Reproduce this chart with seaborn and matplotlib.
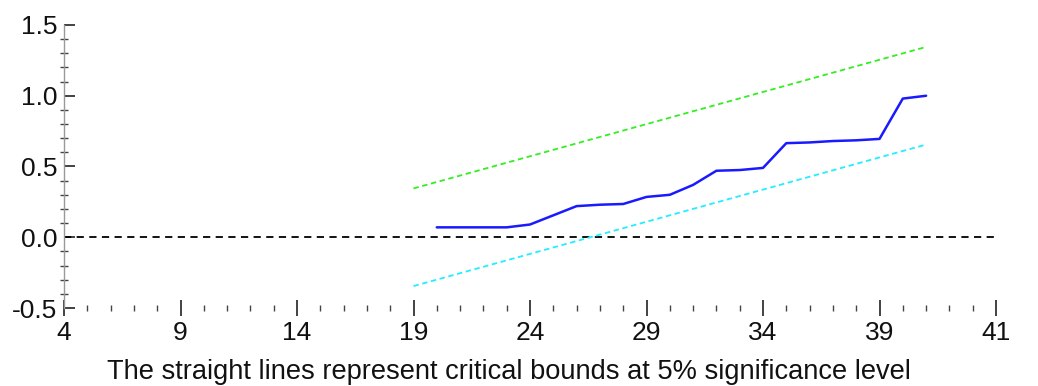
import matplotlib
matplotlib.use("Agg")
import matplotlib.pyplot as plt
import seaborn as sns
import pandas as pd
from matplotlib.ticker import FixedLocator, MultipleLocator

# Data
obs = list(range(20, 42))
cusumsq = [0.07, 0.07, 0.07, 0.07, 0.09, 0.155, 0.22, 0.23, 0.235, 0.285, 0.30,
           0.37, 0.47, 0.475, 0.49, 0.665, 0.67, 0.68, 0.685, 0.695, 0.98, 1.0]
bound_x = [19, 41]
upper_bound = [0.345, 1.345]
lower_bound = [-0.345, 0.655]
xtick_pos = [4, 9, 14, 19, 24, 29, 34, 39, 44]
xtick_labels = ["4", "9", "14", "19", "24", "29", "34", "39", "41"]
ytick_pos = [-0.5, 0.0, 0.5, 1.0, 1.5]
ytick_labels = ["-0.5", "0.0", "0.5", "1.0", "1.5"]
xlabel = "The straight lines represent critical bounds at 5% significance level"

sns.set_theme(style="white")
plt.rcParams['font.family'] = ['Liberation Sans', 'DejaVu Sans']

fig = plt.figure(figsize=(10.38, 3.86), dpi=100)
ax = fig.add_axes([64/1038, 1-308/386, (996-64)/1038, (308-25)/386])

df = pd.DataFrame({"obs": obs, "val": cusumsq})
bdf = pd.DataFrame({"x": bound_x, "up": upper_bound, "lo": lower_bound})

ax.axhline(0, color="black", lw=1.3, ls=(0, (4, 3)), zorder=1)
sns.lineplot(data=bdf, x="x", y="up", ax=ax, color="#33ee22", lw=1.3,
             linestyle=(0, (3, 2)))
sns.lineplot(data=bdf, x="x", y="lo", ax=ax, color="#22eeff", lw=1.3,
             linestyle=(0, (3, 2)))
sns.lineplot(data=df, x="obs", y="val", ax=ax, color="#1a1aff", lw=1.8)

ax.set_xlim(4, 44)
ax.set_ylim(-0.5, 1.5)
ax.xaxis.set_major_locator(FixedLocator(xtick_pos))
ax.set_xticklabels(xtick_labels)
ax.xaxis.set_minor_locator(MultipleLocator(1))
ax.yaxis.set_major_locator(FixedLocator(ytick_pos))
ax.set_yticklabels(ytick_labels)
ax.yaxis.set_minor_locator(MultipleLocator(0.1))

for s in ["top", "right", "bottom"]:
    ax.spines[s].set_visible(False)
ax.spines["left"].set_color("#999999")
ax.spines["left"].set_linewidth(1.0)

ax.tick_params(axis="x", which="major", direction="inout", length=12, width=1.2,
               color="#222222", labelsize=19, pad=3, bottom=True,
               labelcolor="#111111")
ax.tick_params(axis="x", which="minor", direction="inout", length=5, width=1.0,
               color="#444444", bottom=True)
ax.tick_params(axis="y", which="major", direction="in", length=8, width=1.2,
               color="#222222", labelsize=19, pad=5, left=True,
               labelcolor="#111111")
ax.tick_params(axis="y", which="minor", direction="inout", length=6, width=1.0,
               color="#444444", left=True)

ax.set_xlabel(xlabel, fontsize=19.6, color="#111111")
ax.xaxis.set_label_coords((509 - 64) / 932, -(359 - 308) / 283, transform=ax.transAxes)
ax.set_ylabel("")
ax.grid(False)

fig.savefig("out.png", dpi=100)
